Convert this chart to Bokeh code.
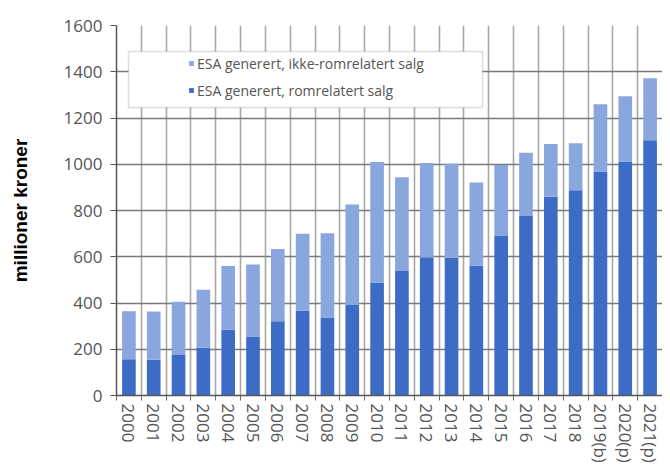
from bokeh.plotting import figure
from bokeh.models import (Range1d, FixedTicker, Legend, LegendItem,
                          BoxAnnotation, ColumnDataSource)
from bokeh.embed import file_html
from bokeh.resources import INLINE

# ---- data ----
years = ["2000", "2001", "2002", "2003", "2004", "2005", "2006", "2007",
         "2008", "2009", "2010", "2011", "2012", "2013", "2014", "2015",
         "2016", "2017", "2018", "2019(b)", "2020(p)", "2021(p)"]
romrelatert = [157, 155, 175, 206, 284, 255, 321, 367, 337, 394, 489, 538,
               598, 596, 561, 692, 776, 860, 888, 969, 1012, 1104]
ikke_romrelatert = [207, 208, 230, 251, 276, 312, 313, 333, 365, 432, 521,
                    406, 407, 406, 360, 305, 274, 228, 203, 290, 282, 268]
y_ticks = [0, 200, 400, 600, 800, 1000, 1200, 1400, 1600]
legend_labels = ["ESA generert, ikke-romrelatert salg",
                 "ESA generert, romrelatert salg"]
y_title = "millioner kroner"

DARK = "#3d6cc6"
LIGHT = "#8aa6de"

x = list(range(len(years)))
source = ColumnDataSource(dict(x=x, rom=romrelatert, ikke=ikke_romrelatert))

FRAME_W, FRAME_H = 546, 370
p = figure(frame_width=FRAME_W, frame_height=FRAME_H,
           x_range=Range1d(-0.5, len(years) - 0.5),
           y_range=Range1d(y_ticks[0], y_ticks[-1]),
           output_backend="svg", toolbar_location=None,
           min_border=0, min_border_left=116, min_border_top=25,
           min_border_right=0, min_border_bottom=0)
p.outline_line_color = None
p.background_fill_color = "white"
p.border_fill_color = "white"

rs = p.vbar_stack(["rom", "ikke"], x="x", width=0.55,
                  fill_color=[DARK, LIGHT], line_color=None, source=source)

boundaries = [i - 0.5 for i in range(len(years) + 1)]

# x axis
xa = p.xaxis[0]
xa.ticker = FixedTicker(ticks=x, minor_ticks=boundaries)
xa.major_label_overrides = {i: lab for i, lab in enumerate(years)}
xa.major_label_orientation = "vertical"
xa.major_tick_line_color = None
xa.major_tick_out = 5
xa.major_tick_in = 0
xa.minor_tick_out = 5
xa.minor_tick_in = 0
xa.minor_tick_line_color = "#666666"
xa.axis_line_color = "#555555"
xa.axis_line_width = 1.5
xa.major_label_standoff = 3
xa.major_label_text_font = "Open Sans"
xa.major_label_text_font_size = "17px"
xa.major_label_text_color = "#555555"

# y axis
ya = p.yaxis[0]
ya.ticker = FixedTicker(ticks=y_ticks)
ya.major_tick_out = 6
ya.major_tick_in = 0
ya.major_tick_line_color = "#555555"
ya.minor_tick_line_color = None
ya.axis_line_color = "#555555"
ya.axis_line_width = 1.5
ya.major_label_standoff = 8
ya.major_label_text_font = "Open Sans"
ya.major_label_text_font_size = "17px"
ya.major_label_text_color = "#555555"
ya.axis_label = y_title
ya.axis_label_text_font = "Liberation Sans"
ya.axis_label_text_font_style = "bold"
ya.axis_label_text_font_size = "19px"
ya.axis_label_text_color = "black"
ya.axis_label_standoff = 30

# grids
p.xgrid.ticker = FixedTicker(ticks=boundaries)
p.xgrid.grid_line_color = "#a8a8a8"
p.xgrid.grid_line_width = 1.6
p.ygrid.grid_line_color = "#7a7a7a"
p.ygrid.grid_line_width = 1.5

# legend frame
px_per_unit_y = FRAME_H / (y_ticks[-1] - y_ticks[0])
px_per_unit_x = FRAME_W / len(years)
box = BoxAnnotation(left=-0.5 + 12 / px_per_unit_x,
                    right=-0.5 + 366 / px_per_unit_x,
                    top=y_ticks[-1] - 26 / px_per_unit_y,
                    bottom=y_ticks[-1] - 82 / px_per_unit_y,
                    fill_color="white", fill_alpha=1.0,
                    line_color="#8c8c8c", line_width=1.5)
p.add_layout(box)

legend = Legend(items=[LegendItem(label=legend_labels[0], renderers=[rs[1]]),
                       LegendItem(label=legend_labels[1], renderers=[rs[0]])],
                location=(72, FRAME_H - 28 - 47),
                padding=0, glyph_width=6, glyph_height=6, label_standoff=3,
                spacing=7, label_height=20,
                border_line_color=None, background_fill_alpha=0,
                label_text_font="Open Sans", label_text_font_size="14px",
                label_text_color="#555555")
p.add_layout(legend)

open("out.html", "w").write(file_html(p, INLINE))
